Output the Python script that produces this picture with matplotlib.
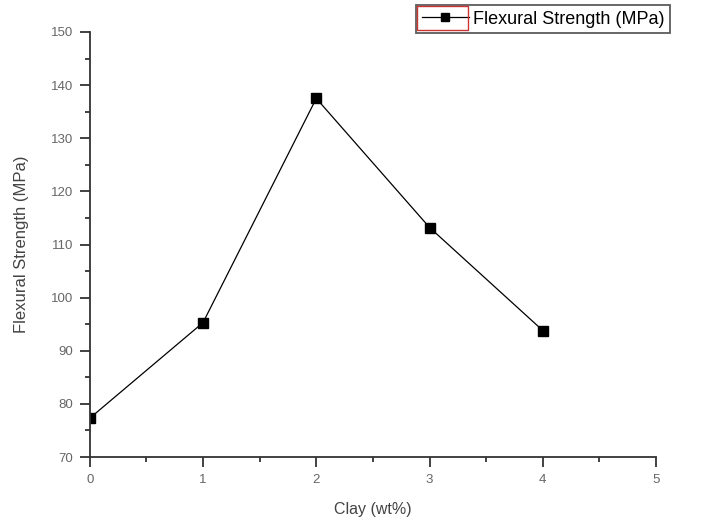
import matplotlib.pyplot as plt
from matplotlib.patches import Rectangle

# Daten
clay = [0, 1, 2, 3, 4]
strength = [77.3, 95.3, 137.5, 113.2, 93.8]

plt.rcParams['font.family'] = ['Liberation Sans', 'DejaVu Sans']

fig = plt.figure(figsize=(7.01, 5.21), dpi=100)
ax = fig.add_axes([0.128, 0.1228, 0.808, 0.8158])

line, = ax.plot(clay, strength, color='black', linewidth=0.9, marker='s',
                markersize=7, label='Flexural Strength (MPa)')

ax.set_xlim(0, 5)
ax.set_ylim(70, 150)
ax.set_xticks(range(0, 6))
ax.set_yticks(range(70, 151, 10))
ax.set_xticks([i + 0.5 for i in range(5)], minor=True)
ax.set_yticks([75 + 10 * i for i in range(8)], minor=True)

for s in ['top', 'right']:
    ax.spines[s].set_visible(False)
for s in ['left', 'bottom']:
    ax.spines[s].set_linewidth(1.3)
    ax.spines[s].set_color('#333333')

ax.tick_params(which='major', direction='out', length=7, width=1.3,
               color='#333333', labelsize=9.5, labelcolor='#666666', pad=5)
ax.tick_params(which='minor', direction='out', length=3.5, width=1.3, color='#333333')

ax.set_xlabel('Clay (wt%)', fontsize=11.5, color='#444444', labelpad=12)
ax.set_ylabel('Flexural Strength (MPa)', fontsize=12, color='#444444', labelpad=16)

leg = fig.legend(handles=[line], loc='upper left', bbox_to_anchor=(0.594, 0.99),
                 frameon=True, fancybox=False, fontsize=13, handlelength=2.6,
                 handletextpad=0.25, borderpad=0.3, borderaxespad=0, markerscale=0.85)
leg.get_frame().set_edgecolor('#333333')
leg.get_frame().set_linewidth(1.3)

# roter Rahmen um das Legendensymbol
fig.patches.append(Rectangle((0.595, 0.943), 0.073, 0.046, transform=fig.transFigure,
                             fill=False, edgecolor='#cc3333', linewidth=1, zorder=10))

fig.savefig('out.png', dpi=100)
